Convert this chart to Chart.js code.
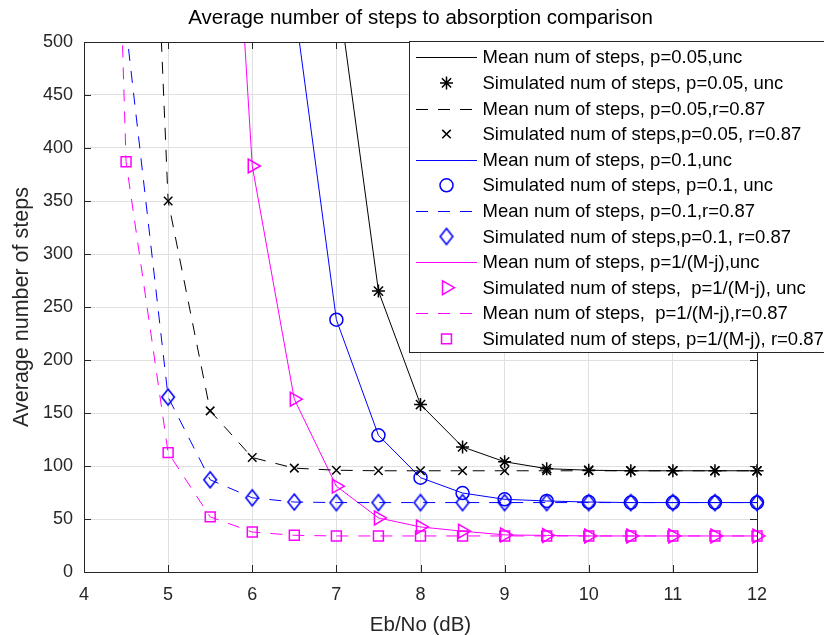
<!DOCTYPE html>
<html><head><meta charset="utf-8">
<script src="https://cdn.jsdelivr.net/npm/chart.js@4.4.1/dist/chart.umd.min.js"></script>
<style>html,body{margin:0;padding:0;background:#fff}canvas{display:block}</style>
</head><body>
<canvas id="c" width="824" height="635"></canvas>
<script>
// ---------- data ----------
const ebno = [4, 4.5, 5, 5.5, 6, 6.5, 7, 7.5, 8, 8.5, 9, 9.5, 10, 10.5, 11, 11.5, 12];
const xTicks = [4, 5, 6, 7, 8, 9, 10, 11, 12];
const yTicks = [0, 50, 100, 150, 200, 250, 300, 350, 400, 450, 500];

const meanP05Unc = [null, null, null, null, null, null, 559, 265, 158, 118, 104, 97.5, 96, 95.5, 95.5, 95.5, 95.5];
const simP05Unc  = [null, null, null, null, null, null, null, 265, 158, 118, 104, 97.5, 96, 95.5, 95.5, 95.5, 95.5];
const meanP05R   = [null, 1290, 350, 152, 108, 98, 96, 95.5, 95.5, 95.5, 95.5, 95.5, 95.5, 95.5, 95.5, 95.5, 95.5];
const simP05R    = [null, null, 350, 152, 108, 98, 96, 95.5, 95.5, 95.5, 95.5, 95.5, 95.5, 95.5, 95.5, 95.5, 95.5];
const meanP1Unc  = [null, null, null, null, null, 536, 238, 129, 89, 74.5, 68.6, 67, 66, 65.5, 65.5, 65.5, 65.5];
const simP1Unc   = [null, null, null, null, null, null, 238, 129, 89, 74.5, 68.6, 67, 66, 65.5, 65.5, 65.5, 65.5];
const meanP1R    = [null, 514, 165, 87, 70, 66, 65.5, 65.5, 65.5, 65.5, 65.5, 65.5, 65.5, 65.5, 65.5, 65.5, 65.5];
const simP1R     = [null, null, 165, 87, 70, 66, 65.5, 65.5, 65.5, 65.5, 65.5, 65.5, 65.5, 65.5, 65.5, 65.5, 65.5];
const meanPMjUnc = [null, null, null, 1033, 383, 163, 81, 51, 42.5, 38.5, 35, 34.5, 34, 34, 34, 34, 34];
const simPMjUnc  = [null, null, null, null, 383, 163, 81, 51, 42.5, 38.5, 35, 34.5, 34, 34, 34, 34, 34];
const meanPMjR   = [1700, 387, 112.6, 52, 37.7, 34.6, 34, 34, 34, 34, 34, 34, 34, 34, 34, 34, 34];
const simPMjR    = [null, 387, 112.6, 52, 37.7, 34.6, 34, 34, 34, 34, 34, 34, 34, 34, 34, 34, 34];

const labels = [
  'Mean num of steps, p=0.05,unc',
  'Simulated num of steps, p=0.05, unc',
  'Mean num of steps, p=0.05,r=0.87',
  'Simulated num of steps,p=0.05, r=0.87',
  'Mean num of steps, p=0.1,unc',
  'Simulated num of steps, p=0.1, unc',
  'Mean num of steps, p=0.1,r=0.87',
  'Simulated num of steps,p=0.1, r=0.87',
  'Mean num of steps, p=1/(M-j),unc',
  'Simulated num of steps,  p=1/(M-j), unc',
  'Mean num of steps,  p=1/(M-j),r=0.87',
  'Simulated num of steps, p=1/(M-j), r=0.87'
];
const titleText = 'Average number of steps to absorption comparison';
const xTitle = 'Eb/No (dB)';
const yTitle = 'Average number of steps';

// ---------- styling ----------
const BLACK = '#000000', BLUE = '#0000ff', MAG = '#ff00ff';
const FONT = "'Liberation Sans', Arial, Helvetica, sans-serif";
const DASH = [12, 10];

function diamondImg(color) {
  const cv = document.createElement('canvas');
  cv.width = 16; cv.height = 20;
  const g = cv.getContext('2d');
  g.strokeStyle = color; g.lineWidth = 1.6;
  g.beginPath();
  g.moveTo(8, 2); g.lineTo(14.3, 10); g.lineTo(8, 18); g.lineTo(1.7, 10); g.closePath();
  g.stroke();
  return cv;
}
const diamond = diamondImg(BLUE);

// legend style table, one per series, in legend order
const seriesStyle = [
  { kind: 'line', color: BLACK, dashed: false },
  { kind: 'marker', color: BLACK, style: 'star', r: 6.5, rot: 0 },
  { kind: 'line', color: BLACK, dashed: true },
  { kind: 'marker', color: BLACK, style: 'crossRot', r: 6, rot: 0 },
  { kind: 'line', color: BLUE, dashed: false },
  { kind: 'marker', color: BLUE, style: 'circle', r: 6.5, rot: 0 },
  { kind: 'line', color: BLUE, dashed: true },
  { kind: 'marker', color: BLUE, style: diamond, r: 8, rot: 0 },
  { kind: 'line', color: MAG, dashed: false },
  { kind: 'marker', color: MAG, style: 'triangle', r: 8, rot: 90 },
  { kind: 'line', color: MAG, dashed: true },
  { kind: 'marker', color: MAG, style: 'rect', r: 7, rot: 0 }
];
const seriesData = [meanP05Unc, simP05Unc, meanP05R, simP05R, meanP1Unc, simP1Unc,
                    meanP1R, simP1R, meanPMjUnc, simPMjUnc, meanPMjR, simPMjR];

function toXY(arr) { return ebno.map((x, i) => ({ x: x, y: arr[i] })); }

const datasets = seriesStyle.map((s, i) => {
  if (s.kind === 'line') {
    return { label: labels[i], data: toXY(seriesData[i]), borderColor: s.color, backgroundColor: s.color,
      borderWidth: 1, borderDash: s.dashed ? DASH : [], pointRadius: 0, showLine: true,
      spanGaps: false, tension: 0 };
  }
  return { label: labels[i], data: toXY(seriesData[i]), borderColor: s.color, backgroundColor: 'rgba(0,0,0,0)',
    showLine: false, pointStyle: s.style, pointRadius: s.r, pointHoverRadius: s.r,
    pointRotation: s.rot, pointBorderColor: s.color, pointBackgroundColor: 'rgba(0,0,0,0)',
    pointBorderWidth: 1.5, clip: false };
});

// ---------- plugin: box, inward ticks, titles, legend ----------
const decor = {
  id: 'decor',
  afterDatasetsDraw(chart) {
    const ctx = chart.ctx, a = chart.chartArea;
    const xs = chart.scales.x, ys = chart.scales.y;
    ctx.save();
    ctx.strokeStyle = '#262626'; ctx.lineWidth = 1;
    ctx.beginPath();
    ctx.rect(Math.round(a.left) + 0.5, Math.round(a.top) + 0.5, Math.round(a.right - a.left), Math.round(a.bottom - a.top));
    ctx.stroke();
    const TL = 7;
    ctx.beginPath();
    xTicks.forEach(v => {
      const px = Math.round(xs.getPixelForValue(v)) + 0.5;
      ctx.moveTo(px, a.bottom); ctx.lineTo(px, a.bottom - TL);
      ctx.moveTo(px, a.top); ctx.lineTo(px, a.top + TL);
    });
    yTicks.forEach(v => {
      const py = Math.round(ys.getPixelForValue(v)) + 0.5;
      ctx.moveTo(a.left, py); ctx.lineTo(a.left + TL, py);
      ctx.moveTo(a.right, py); ctx.lineTo(a.right - TL, py);
    });
    ctx.stroke();
    ctx.restore();
  },
  afterDraw(chart) {
    const ctx = chart.ctx, a = chart.chartArea;
    ctx.save();
    // title
    ctx.fillStyle = '#000';
    ctx.font = "20.5px " + FONT;
    ctx.textAlign = 'center'; ctx.textBaseline = 'middle';
    ctx.fillText(titleText, (a.left + a.right) / 2, 18);
    // axis titles
    ctx.fillStyle = '#262626';
    ctx.font = "20.5px " + FONT;
    ctx.fillText(xTitle, (a.left + a.right) / 2, 625);
    ctx.save();
    ctx.translate(22, (a.top + a.bottom) / 2);
    ctx.rotate(-Math.PI / 2);
    ctx.font = "21.5px " + FONT;
    ctx.fillText(yTitle, 0, 0);
    ctx.restore();
    // legend
    const L = 409.5, T = 41.5, R = 840, B = 352.5;
    ctx.fillStyle = '#fff';
    ctx.fillRect(L, T, R - L, B - T);
    ctx.strokeStyle = '#262626'; ctx.lineWidth = 1;
    ctx.strokeRect(L, T, R - L, B - T);
    const rowY0 = 57.3, rowH = 25.6;
    ctx.font = "18.5px " + FONT;
    ctx.textAlign = 'left'; ctx.textBaseline = 'middle';
    chart.data.datasets.forEach((ds, i) => {
      const s = seriesStyle[i];
      const y = rowY0 + rowH * i;
      const yl = Math.round(y);
      if (s.kind === 'line') {
        ctx.fillStyle = s.color;
        if (s.dashed) {
          [[416, 12], [438, 12], [460, 12]].forEach(([x0, w]) => ctx.fillRect(x0, yl, w, 1));
        } else {
          ctx.fillRect(416, yl, 61, 1);
        }
      } else {
        ctx.save();
        ctx.strokeStyle = s.color; ctx.fillStyle = 'rgba(0,0,0,0)';
        ctx.lineWidth = 1.5;
        Chart.helpers.drawPoint(ctx, { pointStyle: s.style, rotation: s.rot, radius: s.r, borderWidth: 1.5 }, 446.5, y);
        ctx.restore();
      }
      ctx.fillStyle = '#000';
      ctx.fillText(ds.label, 482.5, y + 1);
    });
    ctx.restore();
  }
};

new Chart(document.getElementById('c'), {
  type: 'scatter',
  data: { datasets },
  options: {
    responsive: false,
    animation: false,
    devicePixelRatio: 1,
    layout: { padding: { top: 42, right: 67, left: 0, bottom: 0 } },
    plugins: { legend: { display: false }, title: { display: false }, tooltip: { enabled: false } },
    scales: {
      x: {
        type: 'linear', min: 4, max: 12,
        afterFit(s) { s.height = 63; },
        afterBuildTicks(s) { s.ticks = xTicks.map(v => ({ value: v })); },
        ticks: { color: '#262626', font: { family: FONT, size: 18 }, padding: 12, maxRotation: 0 },
        grid: { color: '#e0e0e0', drawTicks: false, lineWidth: 1 },
        border: { display: true, color: '#262626' }
      },
      y: {
        type: 'linear', min: 0, max: 500,
        afterFit(s) { s.width = 84; },
        afterBuildTicks(s) { s.ticks = yTicks.map(v => ({ value: v })); },
        ticks: { color: '#262626', font: { family: FONT, size: 18 }, padding: 11 },
        grid: { color: '#e0e0e0', drawTicks: false, lineWidth: 1 },
        border: { display: true, color: '#262626' }
      }
    }
  },
  plugins: [decor]
});
</script>
</body></html>
